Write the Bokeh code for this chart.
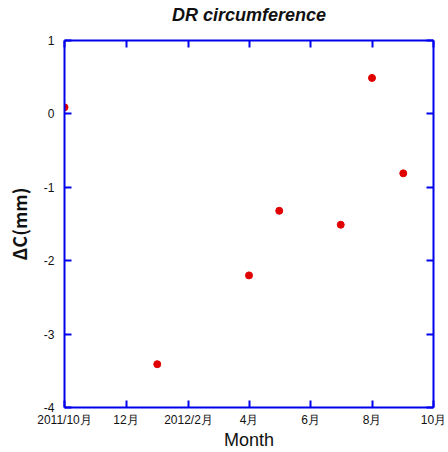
import pandas as pd
from bokeh.plotting import figure
from bokeh.models import (Range1d, FixedTicker, LinearAxis, DatetimeAxis,
                          ColumnDataSource, CustomJSTickFormatter)
from bokeh.embed import file_html
from bokeh.resources import INLINE

# ---- data ----
dates = ["2011-10-01", "2012-01-01", "2012-04-01", "2012-05-01",
         "2012-07-01", "2012-08-01", "2012-09-01"]
delta_c = [0.09, -3.41, -2.20, -1.32, -1.51, 0.49, -0.81]

x_tick_dates = ["2011-10-01", "2011-12-01", "2012-02-01", "2012-04-01",
                "2012-06-01", "2012-08-01", "2012-10-01"]
x_tick_labels = ["2011/10月", "12月", "2012/2月", "4月", "6月", "8月", "10月"]
y_ticks = [-4, -3, -2, -1, 0, 1]
y_tick_labels = ["-4", "-3", "-2", "-1", "0", "1"]

title_text = "DR circumference"
x_label = "Month"
y_label = "ΔC(mm)"

# ---- build ----
def to_ms(d):
    return float(pd.Timestamp(d).value // 10**6)

x_ticks_ms = [to_ms(d) for d in x_tick_dates]
source = ColumnDataSource(dict(x=pd.to_datetime(dates), y=delta_c))

BLUE = "#0000ee"

p = figure(width=448, height=452, x_axis_type="datetime",
           output_backend="svg", toolbar_location=None,
           x_range=Range1d(pd.Timestamp(x_tick_dates[0]), pd.Timestamp(x_tick_dates[-1])),
           y_range=Range1d(y_ticks[0], y_ticks[-1]),
           min_border_left=64, min_border_right=15, min_border_top=40, min_border_bottom=44)
p.outline_line_color = None
p.grid.visible = False

p.title.text = title_text
p.title.align = "center"
p.title.text_font = "Liberation Sans"
p.title.text_font_style = "bold italic"
p.title.text_font_size = "18px"
p.title.text_color = "#111111"
p.title.standoff = 4

p.scatter("x", "y", source=source, size=7, color="#e00000", line_color="#e00000")

xtick = FixedTicker(ticks=x_ticks_ms)
ytick = FixedTicker(ticks=y_ticks)

bottom_axis = p.below[0]
left_axis = p.left[0]
top_axis = DatetimeAxis(ticker=xtick)
right_axis = LinearAxis(ticker=ytick)
p.add_layout(top_axis, "above")
p.add_layout(right_axis, "right")

bottom_axis.ticker = xtick
left_axis.ticker = ytick
bottom_axis.major_label_overrides = {k: v for k, v in zip(x_ticks_ms, x_tick_labels)}
left_axis.major_label_overrides = {k: v for k, v in zip(y_ticks, y_tick_labels)}

for ax in [bottom_axis, left_axis, top_axis, right_axis]:
    ax.axis_line_color = BLUE
    ax.axis_line_width = 2
    ax.major_tick_line_color = BLUE
    ax.major_tick_line_width = 2
    ax.major_tick_in = 7
    ax.major_tick_out = 0
    ax.minor_tick_line_color = None
    ax.major_label_text_font = "Liberation Sans"
    ax.major_label_text_font_size = "12px"
    ax.major_label_text_color = "#111111"
    ax.major_label_text_line_height = 1.0

right_axis.formatter = CustomJSTickFormatter(code="return '';")
right_axis.major_label_text_color = None
right_axis.major_label_standoff = 0

# top axis: blank labels keep a gap so the title sits near the top edge
top_axis.formatter = CustomJSTickFormatter(code="return ' ';")
top_axis.major_label_text_font_size = "9px"
top_axis.major_label_standoff = 1

bottom_axis.major_label_standoff = 5
left_axis.major_label_standoff = 10

bottom_axis.axis_label = x_label
bottom_axis.axis_label_text_font = "Liberation Sans"
bottom_axis.axis_label_text_font_style = "normal"
bottom_axis.axis_label_text_font_size = "18px"
bottom_axis.axis_label_text_color = "#111111"
bottom_axis.axis_label_text_line_height = 1.0
bottom_axis.axis_label_standoff = 0

left_axis.axis_label = y_label
left_axis.axis_label_text_font = "Noto Sans CJK JP"
left_axis.axis_label_text_font_style = "bold"
left_axis.axis_label_text_font_size = "18px"
left_axis.axis_label_text_color = "#111111"
left_axis.axis_label_standoff = 9

open("out.html", "w").write(file_html(p, INLINE))
